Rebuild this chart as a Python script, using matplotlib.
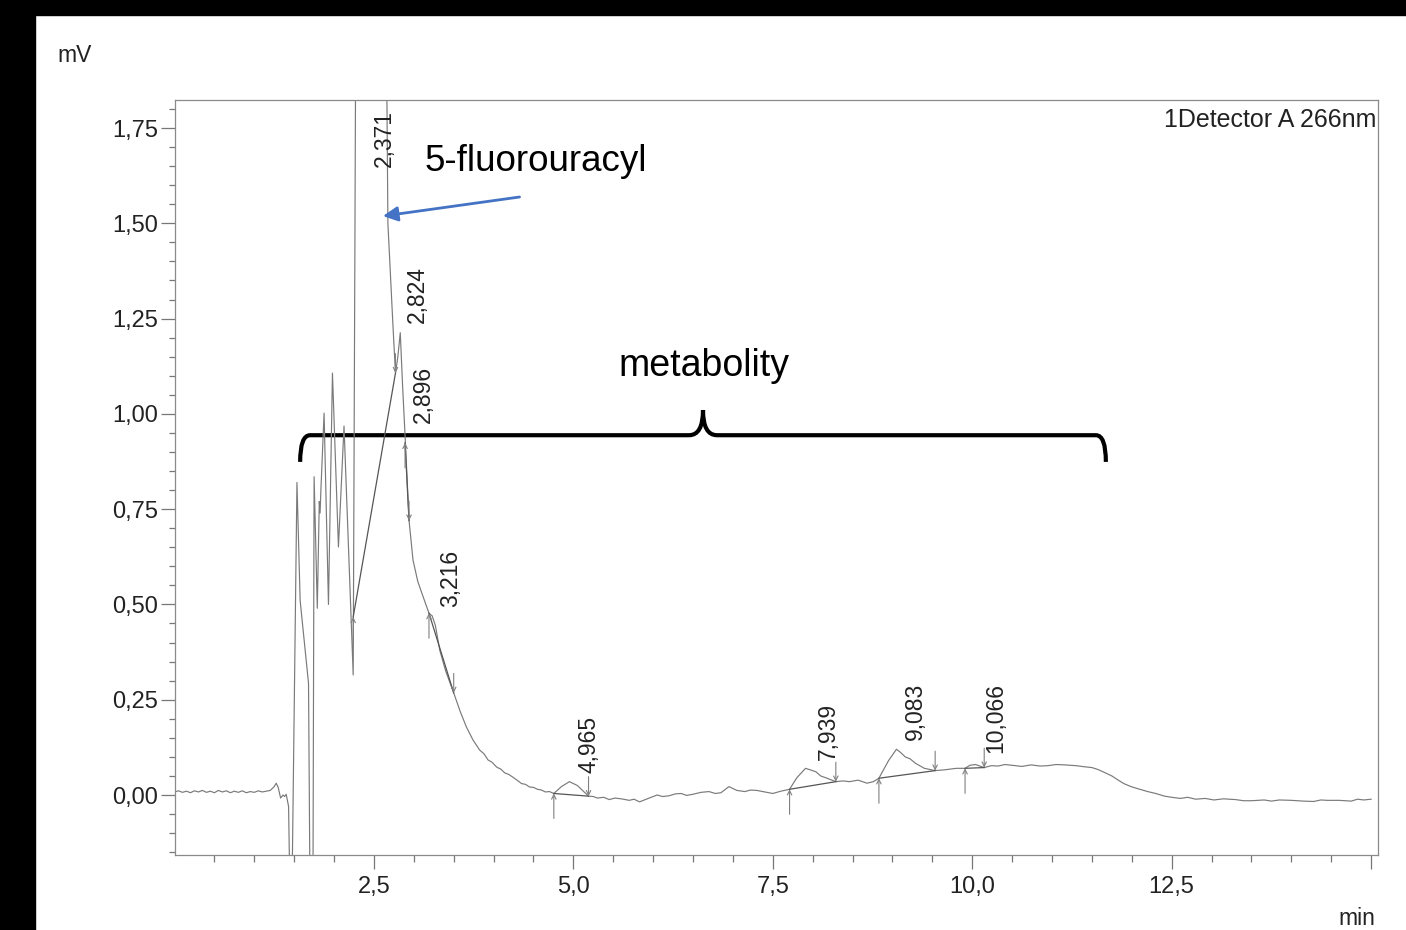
import matplotlib
matplotlib.use('Agg')
import matplotlib.pyplot as plt
from matplotlib.patches import Rectangle, PathPatch
from matplotlib.path import Path

plt.rcParams['font.family'] = ['Liberation Sans', 'DejaVu Sans']

# chromatogram trace (time in min, signal in mV)
time_min = [
    0.00, 0.05, 0.10, 0.15, 0.20, 0.25, 0.30, 0.35, 0.40, 0.45, 0.50, 0.55,
    0.60, 0.65, 0.70, 0.75, 0.80, 0.85, 0.90, 0.95, 1.00, 1.05, 1.10, 1.15,
    1.20, 1.25, 1.275, 1.30, 1.33, 1.36, 1.38, 1.40, 1.43, 1.45, 1.47,
    1.535, 1.575, 1.68, 1.70, 1.735, 1.75, 1.79, 1.80, 1.815, 1.825, 1.835,
    1.875, 1.93, 1.98, 2.055, 2.125, 2.24, 2.27, 2.28, 2.62, 2.6625, 2.675,
    2.74, 2.77, 2.80, 2.83, 2.86, 2.89, 2.94, 2.99, 3.05, 3.10, 3.19, 3.23,
    3.27, 3.325, 3.40, 3.50, 3.58, 3.66, 3.74, 3.825, 3.88, 3.93, 3.98, 4.04,
    4.09, 4.14, 4.19, 4.24, 4.30, 4.35, 4.40, 4.45, 4.50, 4.55, 4.60, 4.65,
    4.70, 4.755, 4.85, 4.95, 5.05, 5.19, 5.25, 5.30, 5.38, 5.45, 5.52, 5.60,
    5.70, 5.76, 5.83, 5.95, 6.05, 6.12, 6.20, 6.28, 6.35, 6.42, 6.50, 6.60,
    6.70, 6.78, 6.85, 6.95, 7.05, 7.15, 7.22, 7.30, 7.40, 7.50, 7.60, 7.71,
    7.80, 7.91, 7.97, 8.04, 8.10, 8.18, 8.29, 8.38, 8.46, 8.57, 8.68, 8.76,
    8.83, 8.95, 9.05, 9.10, 9.16, 9.22, 9.29, 9.35, 9.40, 9.535, 9.65, 9.80,
    9.91, 9.97, 10.04, 10.15, 10.24, 10.325, 10.41, 10.50, 10.62, 10.74,
    10.85, 10.95, 11.05, 11.16, 11.30, 11.41, 11.50, 11.575, 11.68, 11.75,
    11.83, 11.90, 11.99, 12.10, 12.20, 12.30, 12.41, 12.50, 12.61, 12.70,
    12.80, 12.92, 13.03, 13.15, 13.30, 13.40, 13.50, 13.66, 13.75, 13.85,
    14.00, 14.15, 14.28, 14.37, 14.45, 14.60, 14.75, 14.83, 14.91, 15.00,
]
signal_mv = [
    0.008, 0.011, 0.007, 0.010, 0.006, 0.011, 0.008, 0.012, 0.007, 0.010,
    0.006, 0.012, 0.008, 0.011, 0.006, 0.010, 0.007, 0.011, 0.006, 0.009,
    0.007, 0.011, 0.008, 0.010, 0.012, 0.022, 0.031, 0.020, -0.008, 0.000,
    -0.004, 0.002, -0.030, -0.300, -0.300,
    0.820, 0.510, 0.293, -0.300, -0.300, 0.835, 0.490, 0.600, 0.770, 0.740,
    0.800, 1.002, 0.500, 1.107, 0.651, 0.968, 0.315, 1.900, 3.000, 3.000,
    1.823, 1.500,
    1.225, 1.107, 1.150, 1.213, 1.070, 0.944, 0.720, 0.616, 0.560, 0.530,
    0.477, 0.470, 0.445, 0.380, 0.325, 0.268, 0.220, 0.178, 0.145, 0.118,
    0.108, 0.092, 0.086, 0.073, 0.068, 0.058, 0.054, 0.047, 0.038, 0.030,
    0.028, 0.021, 0.020, 0.015, 0.013, 0.008, 0.009, 0.004, 0.022, 0.035,
    0.025, -0.003, -0.004, -0.008, -0.006, -0.012, -0.008, -0.010, -0.014,
    -0.011, -0.018, -0.008, 0.000, -0.004, -0.002, 0.003, 0.004, -0.001,
    0.002, 0.007, 0.009, 0.004, 0.006, 0.022, 0.012, 0.009, 0.013, 0.012,
    0.008, 0.004, 0.010, 0.015, 0.045, 0.070, 0.066, 0.061, 0.050, 0.044,
    0.035, 0.037, 0.035, 0.039, 0.031, 0.035, 0.044, 0.090, 0.120, 0.112,
    0.100, 0.095, 0.083, 0.076, 0.070, 0.064, 0.066, 0.070, 0.070, 0.078,
    0.080, 0.072, 0.077, 0.076, 0.080, 0.078, 0.075, 0.079, 0.076, 0.077,
    0.080, 0.079, 0.077, 0.074, 0.072, 0.067, 0.057, 0.050, 0.039, 0.030,
    0.022, 0.015, 0.009, 0.004, -0.003, -0.006, -0.009, -0.006, -0.011,
    -0.009, -0.013, -0.010, -0.012, -0.015, -0.015, -0.013, -0.016, -0.013,
    -0.014, -0.016, -0.017, -0.013, -0.014, -0.014, -0.016, -0.011, -0.013,
    -0.011,
]

# integration marks: peak start / end points and labelled retention times
start_t = [2.24, 2.89, 3.19, 4.755, 7.71, 8.83, 9.91]
start_y = [0.467, 0.924, 0.477, 0.004, 0.015, 0.044, 0.070]
end_t = [2.77, 2.94, 3.50, 5.19, 8.29, 9.535, 10.15]
end_y = [1.107, 0.720, 0.268, -0.003, 0.035, 0.064, 0.072]

peak_labels = ['2,371', '2,824', '2,896', '3,216', '4,965', '7,939', '9,083', '10,066']
label_t = [2.63, 3.05, 3.125, 3.46, 5.20, 8.20, 9.29, 10.29]
label_y = [1.647, 1.238, 0.976, 0.493, 0.058, 0.092, 0.144, 0.110]

xticks = [2.5, 5.0, 7.5, 10.0, 12.5, 15.0]
xtick_labels = ['2,5', '5,0', '7,5', '10,0', '12,5', '']
yticks = [0.0, 0.25, 0.5, 0.75, 1.0, 1.25, 1.5, 1.75]
ytick_labels = ['0,00', '0,25', '0,50', '0,75', '1,00', '1,25', '1,50', '1,75']

fig = plt.figure(figsize=(14.06, 9.30), dpi=100)
ax = fig.add_axes([174.5 / 1406, 75 / 930, 1203 / 1406, 755 / 930])

trace_col = '#7a7a7a'
ax.plot(time_min, signal_mv, color=trace_col, lw=0.85)

# integration baselines and start/end arrows
for t0, y0, t1, y1 in zip(start_t, start_y, end_t, end_y):
    ax.plot([t0, t1], [y0, y1], color='#555555', lw=0.9)
    ax.annotate('', xy=(t0, y0), xytext=(0, -18), textcoords='offset points',
                arrowprops=dict(arrowstyle='->', color='#808080', lw=0.8,
                                shrinkA=0, shrinkB=0, mutation_scale=8))
    ax.annotate('', xy=(t1, y1), xytext=(0, 14), textcoords='offset points',
                arrowprops=dict(arrowstyle='->', color='#808080', lw=0.8,
                                shrinkA=0, shrinkB=0, mutation_scale=8))

for lab, t, y in zip(peak_labels, label_t, label_y):
    ax.text(t, y, lab, rotation=90, ha='center', va='bottom', fontsize=16.5,
            color='#222222')

ax.set_xlim(0, 15.08)
ax.set_ylim(-0.1574, 1.8235)
ax.set_xticks(xticks)
ax.set_xticklabels(xtick_labels)
ax.set_xticks([i * 0.5 for i in range(1, 31)], minor=True)
ax.set_yticks(yticks)
ax.set_yticklabels(ytick_labels)
ax.set_yticks([-0.15 + i * 0.05 for i in range(40)], minor=True)
ax.tick_params(axis='both', which='major', labelsize=17, color='#777777',
               labelcolor='#222222', width=0.9)
ax.tick_params(axis='x', which='major', length=10, pad=5)
ax.tick_params(axis='x', which='minor', length=5, color='#777777', width=0.9)
ax.tick_params(axis='y', which='major', length=10, pad=2)
ax.tick_params(axis='y', which='minor', length=4, color='#777777', width=0.9)
for sp in ax.spines.values():
    sp.set_color('#8a8a8a')
    sp.set_linewidth(0.9)

ax.text(0.999, 0.99, '1Detector A 266nm', transform=ax.transAxes, ha='right',
        va='top', fontsize=18, color='#222222')

# annotations added on top of the chromatogram
ax.text(3.14, 1.661, '5-fluorouracyl', fontsize=26.5, va='center', ha='left')
ax.annotate('', xy=(2.6125, 1.519), xytext=(4.325, 1.569),
            arrowprops=dict(arrowstyle='-|>', color='#4472C4', lw=2,
                            mutation_scale=22, shrinkA=0, shrinkB=0))
ax.text(6.64, 1.126, 'metabolity', fontsize=27, ha='center', va='center')

# curly brace over the metabolite region
xl, xr, xm = 1.575, 11.675, 6.625
yb, ye, ytip = 0.944, 0.874, 1.01
verts = [(xl, ye), (xl, yb), (xl + 0.125, yb),
         (xm - 0.175, yb),
         (xm, yb), (xm, ytip),
         (xm, yb), (xm + 0.175, yb),
         (xr - 0.125, yb),
         (xr, yb), (xr, ye)]
codes = [Path.MOVETO, Path.CURVE3, Path.CURVE3,
         Path.LINETO,
         Path.CURVE3, Path.CURVE3,
         Path.CURVE3, Path.CURVE3,
         Path.LINETO,
         Path.CURVE3, Path.CURVE3]
ax.add_patch(PathPatch(Path(verts, codes), facecolor='none', edgecolor='black',
                       lw=3, clip_on=False))

fig.text(57 / 1406, 1 - 55 / 930, 'mV', fontsize=16.5, va='center', color='#222222')
fig.text(1375 / 1406, 1 - 918 / 930, 'min', fontsize=16.5, va='center', ha='right',
         color='#222222')

# black scan border at top and left
fig.patches.append(Rectangle((0, 1 - 15 / 930), 1, 15 / 930, transform=fig.transFigure,
                             color='black', zorder=10))
fig.patches.append(Rectangle((0, 0), 35 / 1406, 1, transform=fig.transFigure,
                             color='black', zorder=10))

fig.savefig('out.png', dpi=100)
